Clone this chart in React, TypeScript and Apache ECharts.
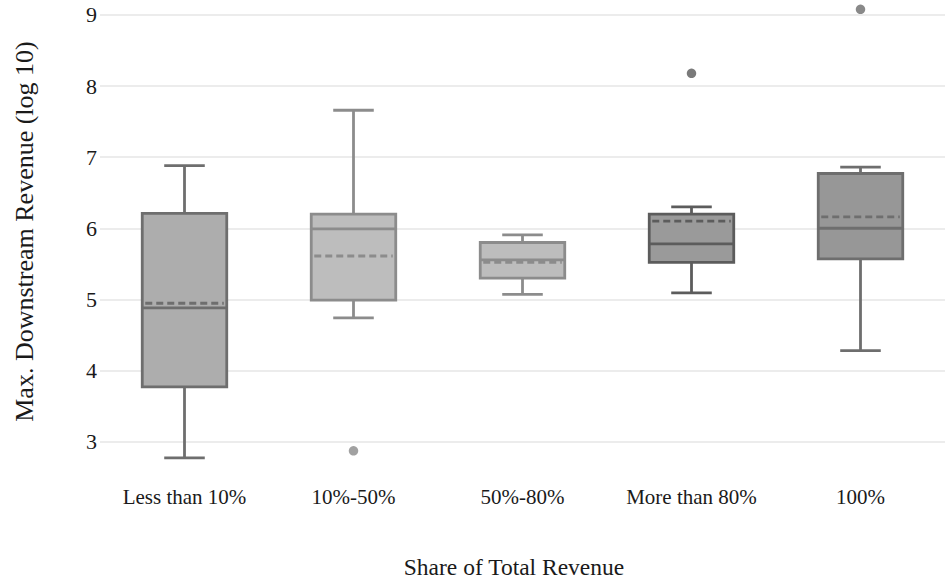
import React, { useEffect, useRef } from "react";
import * as echarts from "echarts";

const categories = ["Less than 10%", "10%-50%", "50%-80%", "More than 80%", "100%"];
const whiskerLow = [2.77, 4.74, 5.07, 5.09, 4.28];
const q1 = [3.77, 4.99, 5.3, 5.52, 5.57];
const median = [4.88, 5.99, 5.555, 5.78, 6.0];
const q3 = [6.21, 6.2, 5.8, 6.2, 6.77];
const whiskerHigh = [6.88, 7.66, 5.906, 6.3, 6.86];
const mean = [4.945, 5.61, 5.52, 6.1, 6.16];
const outlierCategory = ["10%-50%", "More than 80%", "100%"];
const outlierValue = [2.87, 8.18, 9.08];

const fillColors = ["#adadad", "#bdbdbd", "#bdbdbd", "#9a9a9a", "#979797"];
const strokeColors = ["#6e6e6e", "#8c8c8c", "#8c8c8c", "#5c5c5c", "#6e6e6e"];
const outlierColors = ["#8a8a8a", "#595959", "#6b6b6b"];

const FONT = "'Liberation Serif', 'Times New Roman', serif";

export default function App() {
  const ref = useRef<HTMLDivElement>(null);
  useEffect(() => {
    if (!ref.current) return;
    const chart = echarts.init(ref.current, null, { renderer: "svg" });
    const boxData = categories.map((_, i) => [
      i,
      whiskerLow[i],
      q1[i],
      median[i],
      q3[i],
      whiskerHigh[i],
      mean[i],
    ]);
    const option: any = {
      animation: false,
      backgroundColor: "#ffffff",
      grid: { left: 100, right: -11, top: 4.3, bottom: 112 },
      xAxis: {
        type: "category",
        data: categories,
        axisLine: { show: false },
        axisTick: { show: false },
        splitLine: { show: false },
        axisLabel: { color: "#1a1a1a", fontFamily: FONT, fontSize: 21, margin: 16, interval: 0 },
      },
      yAxis: {
        type: "value",
        min: 2.6,
        max: 9.15,
        axisLine: { show: false },
        axisTick: { show: false },
        axisLabel: {
          color: "#1a1a1a",
          fontFamily: FONT,
          fontSize: 22,
          margin: 3,
          showMinLabel: false,
          showMaxLabel: false,
        },
        splitLine: {
          show: true,
          showMinLine: false,
          showMaxLine: false,
          lineStyle: { color: "#e6e6e6", width: 1.5 },
        },
      },
      graphic: [
        {
          type: "text",
          x: 24,
          y: 231.5,
          rotation: Math.PI / 2,
          style: {
            text: "Max. Downstream Revenue (log 10)",
            fontFamily: FONT,
            fontSize: 26,
            fill: "#1a1a1a",
            align: "center",
            verticalAlign: "middle",
          },
        },
        {
          type: "text",
          x: 514,
          y: 567,
          style: {
            text: "Share of Total Revenue",
            fontFamily: FONT,
            fontSize: 23.5,
            fill: "#1a1a1a",
            align: "center",
            verticalAlign: "middle",
          },
        },
      ],
      series: [
        {
          type: "custom",
          data: boxData,
          encode: { x: 0, y: [1, 2, 3, 4, 5, 6] },
          renderItem: (params: any, api: any) => {
            const i = api.value(0);
            const x = api.coord([i, 0])[0];
            const band = api.size([1, 0])[0];
            const half = band * 0.25;
            const cap = band * 0.12;
            const yLow = api.coord([i, api.value(1)])[1];
            const yQ1 = api.coord([i, api.value(2)])[1];
            const yMed = api.coord([i, api.value(3)])[1];
            const yQ3 = api.coord([i, api.value(4)])[1];
            const yHigh = api.coord([i, api.value(5)])[1];
            const yMean = api.coord([i, api.value(6)])[1];
            const stroke = strokeColors[i];
            const ls = { stroke, lineWidth: 2.8, fill: null };
            return {
              type: "group",
              children: [
                { type: "line", shape: { x1: x, y1: yQ3, x2: x, y2: yHigh }, style: ls },
                { type: "line", shape: { x1: x, y1: yQ1, x2: x, y2: yLow }, style: ls },
                { type: "line", shape: { x1: x - cap, y1: yHigh, x2: x + cap, y2: yHigh }, style: ls },
                { type: "line", shape: { x1: x - cap, y1: yLow, x2: x + cap, y2: yLow }, style: ls },
                {
                  type: "rect",
                  shape: { x: x - half, y: yQ3, width: half * 2, height: yQ1 - yQ3 },
                  style: { fill: fillColors[i], stroke, lineWidth: 2.8 },
                },
                { type: "line", shape: { x1: x - half, y1: yMed, x2: x + half, y2: yMed }, style: ls },
                {
                  type: "line",
                  shape: { x1: x - half + 3, y1: yMean, x2: x + half - 3, y2: yMean },
                  style: { stroke, lineWidth: 2.8, lineDash: [7, 4], fill: null },
                },
              ],
            };
          },
        },
        {
          type: "scatter",
          symbolSize: 9.5,
          data: outlierCategory.map((c, k) => ({
            value: [c, outlierValue[k]],
            itemStyle: { color: outlierColors[k] },
          })),
        },
      ],
    };
    chart.setOption(option);
    return () => chart.dispose();
  }, []);
  return (
    <div
      ref={ref}
      style={{ position: "absolute", left: 0, top: 0, width: 945, height: 582, background: "#fff" }}
    />
  );
}
